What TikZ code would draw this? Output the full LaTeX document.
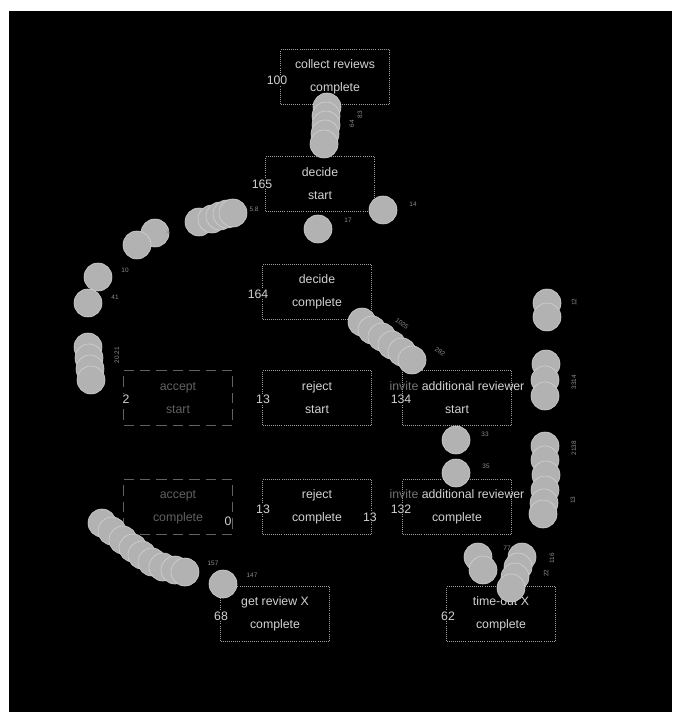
\documentclass[tikz,border=0pt]{standalone}
\usepackage{fontspec}
\setmainfont{Liberation Sans}
\usetikzlibrary{positioning}
\newcommand{\overhang}[1]{\makebox[0pt]{#1}}

\begin{document}
\begin{tikzpicture}[x=0.03cm, y=-0.03cm,
    task/.style={rectangle, draw=gray!75, densely dotted, line width=0.8pt, text=gray!35, minimum width=3.27cm, minimum height=1.65cm, inner sep=0pt, align=center, font=\fontsize{10.5}{19.5}\selectfont},
    ghost/.style={task, draw=white!38!black, dash pattern=on 9pt off 5pt, text=white!38!black},
    count/.style={fill=black, inner sep=0.6pt, text=gray!35, font=\fontsize{10.5}{12}\selectfont},
    token/.style={circle, fill=gray!60, draw=gray!35, line width=0.5pt, minimum size=0.84cm, inner sep=0pt},
    tiny/.style={inner sep=0pt, text=gray!90, font=\fontsize{5.5}{6}\selectfont}
]
    % Canvas
    \useasboundingbox (0,0) rectangle (672,712);
    \fill[white] (0,0) rectangle (672,712);
    \fill[black] (9,11) rectangle (672,712);

    % Tasks
    \node[task] (collect) at (335,77) {collect reviews \\ complete};
    \node[task] (decstart) at (320,184) {decide \\ start};
    \node[task] (deccomp) at (317,292) {decide \\ complete};
    \node[ghost] (accstart) at (178,398) {accept \\ start};
    \node[task] (rejstart) at (317,398) {reject \\ start};
    \node[task] (invstart) at (457,398) {\overhang{{\color{white!45!black}invite} additional reviewer} \\ start};
    \node[ghost] (acccomp) at (178,507) {accept \\ complete};
    \node[task] (rejcomp) at (317,507) {reject \\ complete};
    \node[task] (invcomp) at (457,507) {\overhang{{\color{white!45!black}invite} additional reviewer} \\ complete};
    \node[task] (getrev) at (275,614) {get review X \\ complete};
    \node[task] (timeout) at (501,614) {time-out X \\ complete};

    % Frequencies
    \node[count] (ncollect) at ([shift={(-3,3)}]collect.west) {100};
    \node[count] (ndecstart) at ([shift={(-3,0)}]decstart.west) {165};
    \node[count] (ndeccomp) at ([shift={(-4,2)}]deccomp.west) {164};
    \node[count] (naccstart) at ([shift={(3,1)}]accstart.west) {2};
    \node[count] (nrejstart) at ([shift={(1,1)}]rejstart.west) {13};
    \node[count] (ninvstart) at ([shift={(-1,1)}]invstart.west) {134};
    \node[count] (nacccomp) at ([shift={(-5,14)}]acccomp.east) {0};
    \node[count] (nrejcomp) at ([shift={(1,2)}]rejcomp.west) {13};
    \node[count] (nrejout) at ([shift={(-2,10)}]rejcomp.east) {13};
    \node[count] (ninvcomp) at ([shift={(-1,2)}]invcomp.west) {132};
    \node[count] (ngetrev) at ([shift={(1,2)}]getrev.west) {68};
    \node[count] (ntimeout) at ([shift={(2,2)}]timeout.west) {62};

    % Tokens: collect reviews -> decide
    \node[token] (ta1) at (327,107) {};
    \node[token] (ta2) at (326,116) {};
    \node[token] (ta3) at (326,125) {};
    \node[token] (ta4) at (325,134) {};
    \node[token] (ta5) at (324,144) {};
    \node[tiny, rotate=90] (la1) at (352,124) {64};
    \node[tiny, rotate=90] (la2) at (360,115) {83};

    % Tokens: around decide start
    \node[token] (tb) at (383,210) {};
    \node[token] (tc) at (318,229) {};
    \node[tiny] (lb) at (413,204) {14};
    \node[tiny] (lc) at (348,220) {17};

    % Tokens: decide -> accept
    \node[token] (td1) at (199,222) {};
    \node[token] (td2) at (212,219) {};
    \node[token] (td3) at (220,216) {};
    \node[token] (td4) at (227,214) {};
    \node[token] (td5) at (233,213) {};
    \node[token] (td6) at (155,233) {};
    \node[token] (td7) at (137,245) {};
    \node[token] (td8) at (98,277) {};
    \node[token] (td9) at (88,303) {};
    \node[token] (td10) at (88,347) {};
    \node[token] (td11) at (89,358) {};
    \node[token] (td12) at (90,369) {};
    \node[token] (td13) at (91,380) {};
    \node[tiny] (ld1) at (254,209) {5.8};
    \node[tiny] (ld2) at (168,232) {4};
    \node[tiny] (ld3) at (125,270) {10};
    \node[tiny] (ld4) at (115,297) {41};
    \node[tiny, rotate=90] (ld5) at (117,355) {20.21};

    % Tokens: decide complete -> invite additional reviewer
    \node[token] (te1) at (362,322) {};
    \node[token] (te2) at (372,330) {};
    \node[token] (te3) at (382,337) {};
    \node[token] (te4) at (392,345) {};
    \node[token] (te5) at (402,352) {};
    \node[token] (te6) at (412,360) {};
    \node[tiny, rotate=-35] (le1) at (402,324) {1025};
    \node[tiny, rotate=-35] (le2) at (440,352) {282};

    % Tokens: invite additional reviewer
    \node[token] (tf1) at (456,440) {};
    \node[token] (tf2) at (456,473) {};
    \node[tiny] (lf1) at (485,434) {33};
    \node[tiny] (lf2) at (486,466) {35};

    % Tokens: right side
    \node[token] (tg1) at (547,303) {};
    \node[token] (tg2) at (547,317) {};
    \node[token] (tg3) at (546,364) {};
    \node[token] (tg4) at (545,380) {};
    \node[token] (tg5) at (545,396) {};
    \node[token] (tg6) at (545,446) {};
    \node[token] (tg7) at (545,460) {};
    \node[token] (tg8) at (546,475) {};
    \node[token] (tg9) at (545,490) {};
    \node[token] (tg10) at (544,503) {};
    \node[token] (tg11) at (543,514) {};
    \node[tiny, rotate=90] (lg1) at (574,302) {12};
    \node[tiny, rotate=90] (lg2) at (574,382) {3314};
    \node[tiny, rotate=90] (lg3) at (574,448) {2138};
    \node[tiny, rotate=90] (lg4) at (573,500) {13};

    % Tokens: into time-out X
    \node[token] (th1) at (478,557) {};
    \node[token] (th2) at (483,570) {};
    \node[token] (th3) at (522,557) {};
    \node[token] (th4) at (518,567) {};
    \node[token] (th5) at (515,577) {};
    \node[token] (th6) at (511,588) {};
    \node[tiny] (lh1) at (507,548) {77};
    \node[tiny, rotate=90] (lh2) at (552,558) {116};
    \node[tiny, rotate=90] (lh3) at (546,573) {22};

    % Tokens: into get review X
    \node[token] (ti1) at (102,523) {};
    \node[token] (ti2) at (112,531) {};
    \node[token] (ti3) at (123,540) {};
    \node[token] (ti4) at (133,548) {};
    \node[token] (ti5) at (142,555) {};
    \node[token] (ti6) at (152,562) {};
    \node[token] (ti7) at (163,567) {};
    \node[token] (ti8) at (175,570) {};
    \node[token] (ti9) at (185,572) {};
    \node[token] (ti10) at (223,584) {};
    \node[tiny] (li1) at (213,563) {157};
    \node[tiny] (li2) at (252,575) {147};

\end{tikzpicture}
\end{document}
